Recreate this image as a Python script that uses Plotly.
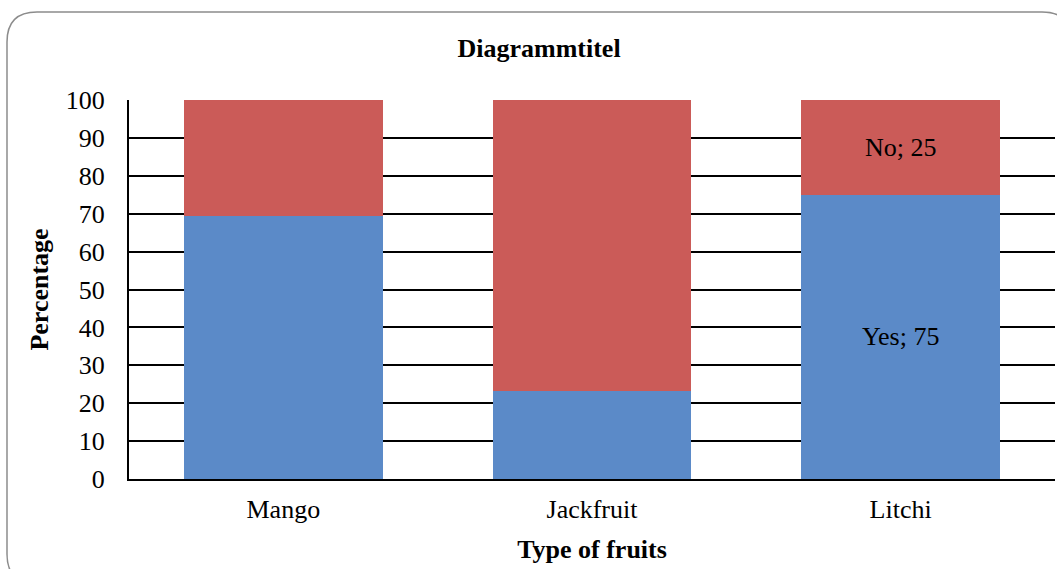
import plotly.graph_objects as go

# Survey results per fruit type (percent)
fruits = ["Mango", "Jackfruit", "Litchi"]
yes_pct = [69.5, 23.3, 75]
no_pct = [30.5, 76.7, 25]
labelled = ["Litchi"]  # categories whose segments carry a value label

y_ticks = list(range(0, 101, 10))

BLUE = "#5B8AC8"
RED = "#CB5B58"
SERIF = "Liberation Serif, Times New Roman, serif"
FS = 26

W, H = 1057, 569
ML, MR, MT, MB = 129, 2, 100, 90
PW, PH = W - ML - MR, H - MT - MB


def seg_labels(name, values):
    return [f"{name}; {v:g}" if f in labelled else "" for f, v in zip(fruits, values)]


fig = go.Figure()
fig.add_trace(go.Bar(
    name="Yes", x=fruits, y=yes_pct, marker=dict(color=BLUE, line=dict(width=0)),
    text=seg_labels("Yes", yes_pct), textposition="inside", insidetextanchor="middle",
    textfont=dict(family=SERIF, size=FS, color="black"), hoverinfo="x+y+name",
))
fig.add_trace(go.Bar(
    name="No", x=fruits, y=no_pct, marker=dict(color=RED, line=dict(width=0)),
    text=seg_labels("No", no_pct), textposition="inside", insidetextanchor="middle",
    textfont=dict(family=SERIF, size=FS, color="black"), hoverinfo="x+y+name",
))


def px_to_paper(px, py):
    return (px - ML) / PW, (H - MB - py) / PH


# Rounded chart-area frame (runs past the right/bottom edges)
x0, y0, x1, y1, r = 7, 12, 1072, 584, 30
pts = {
    "a": px_to_paper(x0, y0 + r), "b": px_to_paper(x0, y0), "c": px_to_paper(x0 + r, y0),
    "d": px_to_paper(x1 - r, y0), "e": px_to_paper(x1, y0), "f": px_to_paper(x1, y0 + r),
    "g": px_to_paper(x1, y1 - r), "h": px_to_paper(x1, y1), "i": px_to_paper(x1 - r, y1),
    "j": px_to_paper(x0 + r, y1), "k": px_to_paper(x0, y1), "l": px_to_paper(x0, y1 - r),
}
P = lambda k: f"{pts[k][0]:.5f},{pts[k][1]:.5f}"
frame = (f"M {P('a')} Q {P('b')} {P('c')} L {P('d')} Q {P('e')} {P('f')} "
         f"L {P('g')} Q {P('h')} {P('i')} L {P('j')} Q {P('k')} {P('l')} Z")
fig.add_shape(type="path", path=frame, xref="paper", yref="paper",
              line=dict(color="#8C8C8C", width=1.5), layer="below")

fig.update_layout(
    barmode="stack",
    bargap=0.356,
    width=W, height=H,
    margin=dict(l=ML, r=MR, t=MT, b=MB, autoexpand=False),
    paper_bgcolor="white",
    plot_bgcolor="white",
    showlegend=False,
    font=dict(family=SERIF, color="black"),
    title=dict(text="<b>Diagrammtitel</b>", x=0.51, xanchor="center",
               y=1 - 48 / H, yanchor="middle", font=dict(family=SERIF, size=FS, color="black")),
)
fig.update_xaxes(
    automargin=False,
    showgrid=False, showline=True, linecolor="black", linewidth=2,
    ticks="", ticklabelstandoff=6, tickfont=dict(family=SERIF, size=FS, color="black"),
    title=dict(text="<b>Type of fruits</b>", font=dict(family=SERIF, size=FS, color="black"),
               standoff=17),
)
fig.update_yaxes(
    automargin=False,
    range=[0, 100], tickvals=y_ticks, ticks="",
    showgrid=True, gridcolor="black", gridwidth=2,
    showline=True, linecolor="black", linewidth=2,
    zeroline=False, ticklabelstandoff=17,
    tickfont=dict(family=SERIF, size=FS, color="black"),
    title=dict(text="<b>Percentage</b>", font=dict(family=SERIF, size=FS, color="black"),
               standoff=10),
)

fig.write_html("out.html")
